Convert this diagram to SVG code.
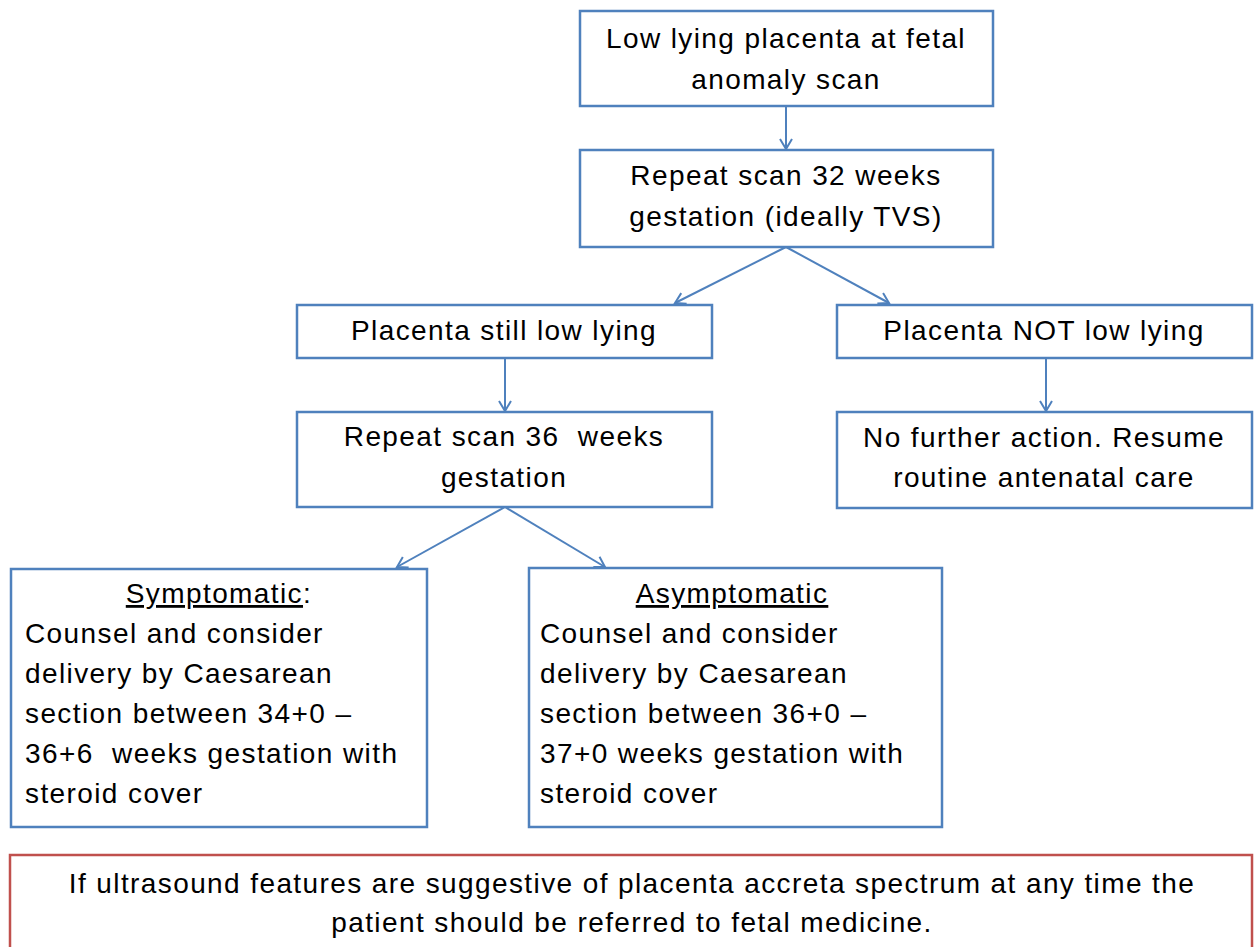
<svg xmlns="http://www.w3.org/2000/svg" width="1254" height="947" viewBox="0 0 1254 947">
<defs>
<style>
.box{fill:#fff;stroke:#4F81BD;stroke-width:2.5}
.red{fill:#fff;stroke:#C0504D;stroke-width:2.5}
.t{font-family:"Liberation Sans",Arial,sans-serif;font-size:28px;letter-spacing:1.4px;fill:#000}
.c{text-anchor:middle}
.conn line{stroke:#4F81BD;stroke-width:2;fill:none}
</style>
<marker id="ah" markerWidth="14" markerHeight="14" refX="12" refY="7" orient="auto" markerUnits="userSpaceOnUse">
<polyline points="2,1 12,7 2,13" fill="none" stroke="#4F81BD" stroke-width="2"/>
</marker>
</defs>
<rect width="1254" height="947" fill="#fff"/>
<g id="n1"><rect class="box" x="580" y="11" width="413" height="95"/>
<text class="t c" x="786" y="48">Low lying placenta at fetal</text>
<text class="t c" x="786" y="89">anomaly scan</text></g>
<g id="n2"><rect class="box" x="580" y="150" width="413" height="97"/>
<text class="t c" x="786" y="185">Repeat scan 32 weeks</text>
<text class="t c" x="786" y="226">gestation (ideally TVS)</text></g>
<g id="n3"><rect class="box" x="297" y="305" width="415" height="53"/>
<text class="t c" x="504" y="340">Placenta still low lying</text></g>
<g id="n4"><rect class="box" x="297" y="412" width="415" height="95"/>
<text class="t c" x="504" y="446" xml:space="preserve">Repeat scan 36  weeks</text>
<text class="t c" x="504" y="487">gestation</text></g>
<g id="n5"><rect class="box" x="837" y="305" width="415" height="53"/>
<text class="t c" x="1044" y="340">Placenta NOT low lying</text></g>
<g id="n6"><rect class="box" x="837" y="412" width="415" height="96"/>
<text class="t c" x="1044" y="447">No further action. Resume</text>
<text class="t c" x="1044" y="487">routine antenatal care</text></g>
<g id="n7"><rect class="box" x="11" y="569" width="416" height="258"/>
<text class="t c" x="219" y="603"><tspan text-decoration="underline">Symptomatic</tspan>:</text>
<text class="t" x="25" y="643">Counsel and consider</text>
<text class="t" x="25" y="683">delivery by Caesarean</text>
<text class="t" x="25" y="723">section between 34+0 –</text>
<text class="t" x="25" y="763" xml:space="preserve">36+6  weeks gestation with</text>
<text class="t" x="25" y="803">steroid cover</text></g>
<g id="n8"><rect class="box" x="529" y="568" width="413" height="259"/>
<text class="t c" x="732" y="603" text-decoration="underline">Asymptomatic</text>
<text class="t" x="540" y="643">Counsel and consider</text>
<text class="t" x="540" y="683">delivery by Caesarean</text>
<text class="t" x="540" y="723">section between 36+0 –</text>
<text class="t" x="540" y="763">37+0 weeks gestation with</text>
<text class="t" x="540" y="803">steroid cover</text></g>
<g id="n9"><rect class="red" x="10" y="855" width="1242" height="100"/>
<text class="t c" x="632" y="893">If ultrasound features are suggestive of placenta accreta spectrum at any time the</text>
<text class="t c" x="632" y="932">patient should be referred to fetal medicine.</text></g>
<g id="connectors" class="conn">
<line x1="786" y1="106" x2="786" y2="149" marker-end="url(#ah)"/>
<line x1="786" y1="247" x2="675" y2="303" marker-end="url(#ah)"/>
<line x1="786" y1="247" x2="889" y2="303" marker-end="url(#ah)"/>
<line x1="505" y1="358" x2="505" y2="411" marker-end="url(#ah)"/>
<line x1="1046" y1="358" x2="1046" y2="411" marker-end="url(#ah)"/>
<line x1="505" y1="507" x2="397" y2="567" marker-end="url(#ah)"/>
<line x1="505" y1="507" x2="605" y2="567" marker-end="url(#ah)"/>
</g>
</svg>
